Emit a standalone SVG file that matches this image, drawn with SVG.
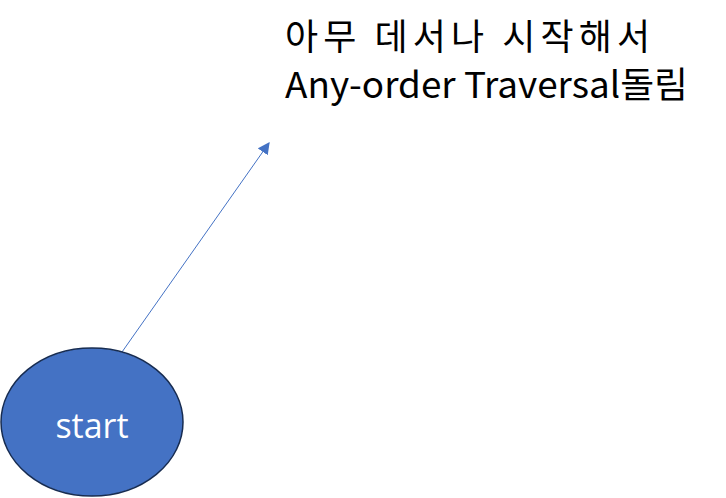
<svg xmlns="http://www.w3.org/2000/svg" width="726" height="498" viewBox="0 0 726 498">
<defs>
<style>
.lbl{font-family:"Noto Sans CJK KR","Noto Sans",sans-serif;font-size:36px;fill:#000}
.node{fill:#4472C4;stroke:#172C51;stroke-width:1.5}
.ntext{font-family:"Open Sans","Noto Sans",sans-serif;font-size:34px;fill:#fff;text-anchor:middle}
.edge{stroke:#4472C4;stroke-width:1;fill:none}
</style>
<marker id="arr" viewBox="0 0 10 10" refX="9" refY="5" markerWidth="12" markerHeight="12" markerUnits="userSpaceOnUse" orient="auto">
<path d="M0,0 L10,5 L0,10 z" fill="#4472C4"/>
</marker>
</defs>
<rect width="726" height="498" fill="#fff"/>
<g id="label">
<text class="lbl" x="285" y="50" textLength="365" lengthAdjust="spacing">아무 데서나 시작해서</text>
<text class="lbl" x="285" y="98" textLength="403" lengthAdjust="spacingAndGlyphs">Any-order Traversal돌림</text>
</g>
<g id="connectors">
<line class="edge" x1="122" y1="352" x2="269" y2="143" marker-end="url(#arr)"/>
</g>
<g id="start">
<ellipse class="node" cx="92" cy="422" rx="91" ry="74"/>
<text class="ntext" x="92" y="438">start</text>
</g>
</svg>
